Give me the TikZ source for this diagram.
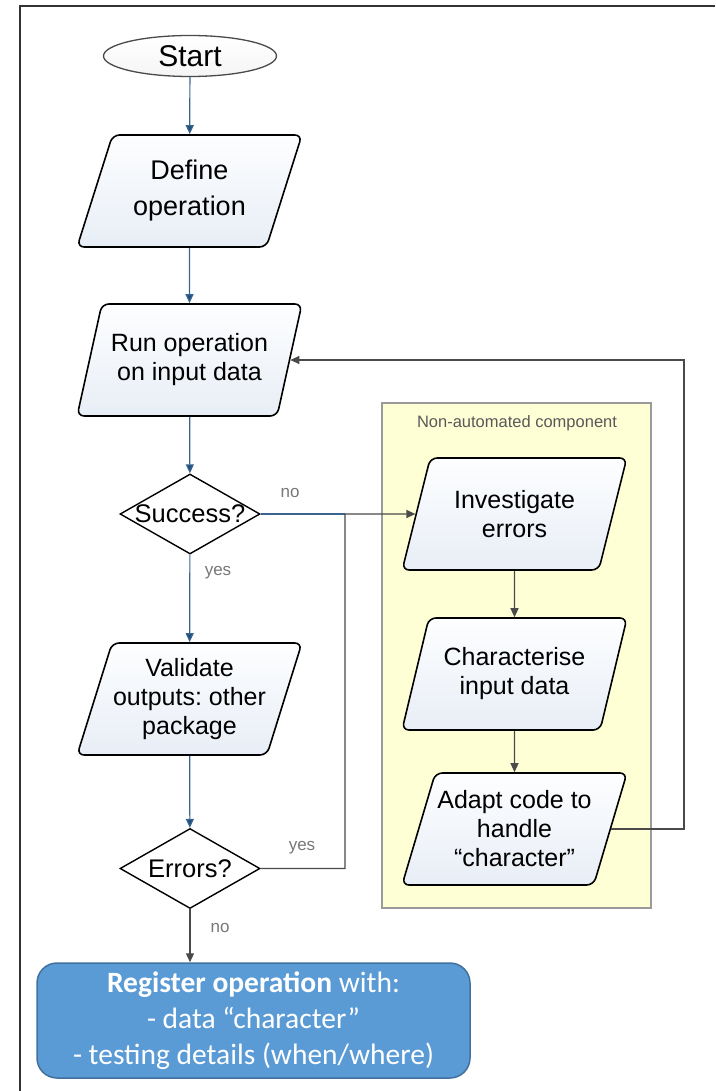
\documentclass[tikz,border=0pt]{standalone}
\usepackage{fontspec}
\setmainfont{Liberation Sans}
\newfontfamily\calib{Carlito}
\usetikzlibrary{shapes.geometric,arrows.meta}
\definecolor{flowblue}{HTML}{3A6591}
\definecolor{tipblue}{HTML}{1F4E79}
\definecolor{lgray}{HTML}{4A4A4A}
\definecolor{lblgray}{HTML}{777777}
\definecolor{ybox}{HTML}{FFFFD6}
\definecolor{yboxline}{HTML}{9A9A9A}
\definecolor{regfill}{HTML}{5B9BD5}
\definecolor{regline}{HTML}{41719C}
\definecolor{paratop}{HTML}{FDFEFF}
\definecolor{parabot}{HTML}{E8EEF6}
\frenchspacing
\tikzset{
  para/.style={trapezium, trapezium left angle=67, trapezium right angle=113,
    trapezium stretches=true, draw=black, line width=1.6pt, rounded corners=7pt,
    top color=paratop, bottom color=parabot,
    minimum width=225pt, minimum height=112pt, inner sep=0pt, align=center,
    font=\fontsize{25}{29}\selectfont},
  dec/.style={diamond, draw=black, line width=1.4pt, fill=white, inner sep=0pt,
    minimum width=140pt, minimum height=80pt},
  dectext/.style={font=\fontsize{25.5}{30}\selectfont, inner sep=0pt},
  term/.style={ellipse, draw=lgray, line width=1.3pt, top color=white, bottom color=black!4,
    minimum width=173pt, minimum height=41pt, inner sep=0pt,
    font=\fontsize{30}{34}\selectfont},
  bluearrow/.style={draw=flowblue, line width=1.2pt, -{Triangle[length=9pt,width=8pt,fill=tipblue]}},
  blueline/.style={draw=flowblue, line width=1.2pt},
  grayarrow/.style={draw=lgray, line width=1.2pt, -{Triangle[length=9pt,width=8pt]}},
  grayline/.style={draw=lgray, line width=1.2pt},
  lbl/.style={text=lblgray, font=\fontsize{17}{19}\selectfont, inner sep=0pt},
  regbox/.style={draw=regline, line width=1.5pt, fill=regfill, rounded corners=20pt,
    minimum width=433pt, minimum height=115pt, align=center, text=white,
    font=\calib\fontsize{29.5}{36}\selectfont},
}
\begin{document}
\begin{tikzpicture}[x=1pt,y=-1pt]
\useasboundingbox (0,0) rectangle (715,1091);
% outer frame (top and left)
\draw[line width=1.8pt, draw=black!80] (20,1091) -- (20,6) -- (715,6);
% yellow box
\draw[draw=yboxline, line width=1.2pt, fill=ybox] (382,403) rectangle (651,908);
\node[text=black!65, font=\fontsize{16.5}{18}\selectfont] (nac) at (517,423) {Non-automated component};
% main column
\node[term] (start) at (190,56) {Start};
\node[para, font=\fontsize{27}{36}\selectfont] (def) at (189.5,191) {Define\\operation};
\node[para] (run) at (189.5,360) {Run operation\\on input data};
\node[dec, label={[dectext]center:Success?}] (succ) at (190,514) {};
\node[para] (val) at (189.5,699) {Validate\\outputs: other\\package};
\node[dec, label={[dectext]center:Errors?}] (err) at (190,868.5) {};
\node[regbox] (reg) at (253.5,1020.5) {\textbf{Register operation} with:\\- data “character”\\- testing details (when/where)};
% right column
\node[para] (inv) at (514.5,514) {Investigate\\errors};
\node[para] (cha) at (514.5,674) {Characterise\\input data};
\node[para] (ada) at (514.5,829) {Adapt code to\\handle\\“character”};
% connectors
\draw[bluearrow] (start) -- (def);
\draw[bluearrow] (def) -- (run);
\draw[bluearrow] (run) -- (succ);
\draw[bluearrow] (succ) -- (val);
\draw[bluearrow] (val) -- (err);
\draw[grayarrow] (err.south) -- (err.south |- reg.north);
\coordinate (jn) at (345,514);
\draw[blueline] (succ.east) -- (jn);
\draw[grayarrow] (err.east) -| (jn) -- (inv.west);
\draw[grayarrow] (inv) -- (cha);
\draw[grayarrow] (cha) -- (ada);
\coordinate (loopc) at (684,600);
\draw[grayarrow] (ada.east) -| (loopc) |- (run.east);
% labels
\node[lbl] (lno1) at (290,493) {no};
\node[lbl] (lyes1) at (218,573) {yes};
\node[lbl] (lyes2) at (302,848) {yes};
\node[lbl] (lno2) at (220,928) {no};
\end{tikzpicture}
\end{document}
